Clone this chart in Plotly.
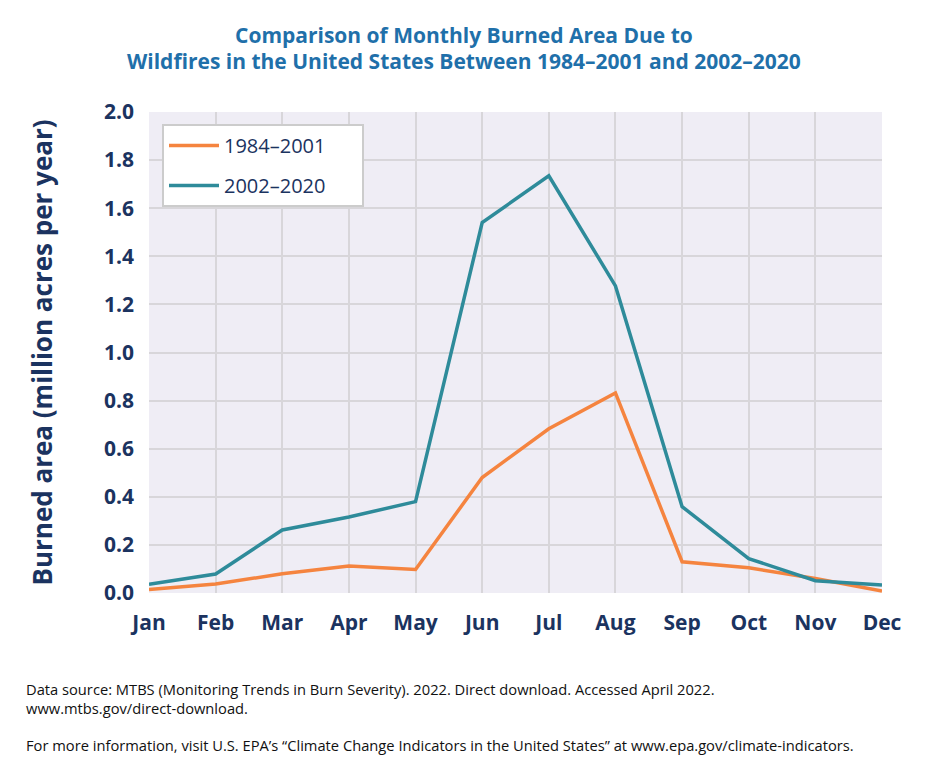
import plotly.graph_objects as go

months = ["Jan", "Feb", "Mar", "Apr", "May", "Jun", "Jul", "Aug", "Sep", "Oct", "Nov", "Dec"]
early = [0.015, 0.037, 0.080, 0.112, 0.098, 0.480, 0.683, 0.832, 0.130, 0.105, 0.060, 0.008]
late = [0.036, 0.079, 0.262, 0.316, 0.380, 1.540, 1.735, 1.277, 0.359, 0.143, 0.051, 0.033]
y_ticks = [0.0, 0.2, 0.4, 0.6, 0.8, 1.0, 1.2, 1.4, 1.6, 1.8, 2.0]
series_names = ["1984–2001", "2002–2020"]

navy = "#1b3360"
# page body has an 8px offset; work in figure coordinates = screenshot - 8
OFF = 8
W, H = 920, 776
L, T = 149 - OFF, 112 - OFF
R, B = W - (882 - OFF), H - (593 - OFF)
PW, PH = W - L - R, H - T - B


def px(xs):
    return (xs - OFF - L) / PW


def py(ys):
    return 1 - (ys - OFF - T) / PH


pad = "&nbsp;" * 6
fig = go.Figure()
fig.add_trace(go.Scatter(x=months, y=early, mode="lines", name=series_names[0] + pad, legendgroup="a",
                         line=dict(color="#f5843f", width=3.5)))
fig.add_trace(go.Scatter(x=months, y=late, mode="lines", name=series_names[1] + pad, legendgroup="b",
                         line=dict(color="#2e8b9a", width=3.5)))

fig.update_layout(
    width=W, height=H,
    margin=dict(l=L, r=R, t=T, b=B, autoexpand=False),
    paper_bgcolor="white", plot_bgcolor="#efedf5",
    font=dict(family="Open Sans", color=navy),
    legend=dict(x=px(162), y=py(124), xanchor="left", yanchor="top",
                bgcolor="white", bordercolor="#cccccc", borderwidth=2,
                font=dict(size=20, color=navy, family="Open Sans"),
                itemwidth=50, tracegroupgap=11),
    showlegend=True,
)
fig.update_xaxes(range=[0, 11], showgrid=True, gridcolor="#d8d6da", gridwidth=2,
                 tickfont=dict(size=21, color=navy, family="Open Sans"),
                 ticks="", ticklabelstandoff=15, zeroline=False, showline=False,
                 tickprefix="<b>", ticksuffix="</b>", automargin=False)
fig.update_yaxes(range=[0, 2.0], tickvals=y_ticks, ticktext=[f"<b>{v:.1f}</b>" for v in y_ticks],
                 showgrid=True, gridcolor="#d8d6da", gridwidth=2, zeroline=False,
                 tickfont=dict(size=21, color=navy, family="Open Sans"),
                 ticklabelstandoff=14, automargin=False,
                 title=dict(text="<b>Burned area (million acres per year)</b>",
                            font=dict(size=26, color=navy, family="Open Sans"), standoff=43))

title_font = dict(size=21, color="#1f70aa", family="Open Sans")
fig.add_annotation(xref="paper", yref="paper", x=px(464), y=py(35),
                   xanchor="center", yanchor="middle", showarrow=False,
                   text="<b>Comparison of Monthly Burned Area Due to</b>", font=title_font)
fig.add_annotation(xref="paper", yref="paper", x=px(464), y=py(61),
                   xanchor="center", yanchor="middle", showarrow=False,
                   text="<b>Wildfires in the United States Between 1984–2001 and 2002–2020</b>", font=title_font)

note_font = dict(size=14.7, color="#111111", family="Open Sans")
fig.add_annotation(xref="paper", yref="paper", x=px(24), y=py(698), xanchor="left", yanchor="middle",
                   text="Data source: MTBS (Monitoring Trends in Burn Severity). 2022. Direct download. Accessed April 2022.<br>www.mtbs.gov/direct-download.",
                   showarrow=False, align="left", font=note_font)
fig.add_annotation(xref="paper", yref="paper", x=px(24), y=py(745), xanchor="left", yanchor="middle",
                   text="For more information, visit U.S. EPA’s “Climate Change Indicators in the United States” at www.epa.gov/climate-indicators.",
                   showarrow=False, align="left", font=note_font)

fig.write_html("out.html")
